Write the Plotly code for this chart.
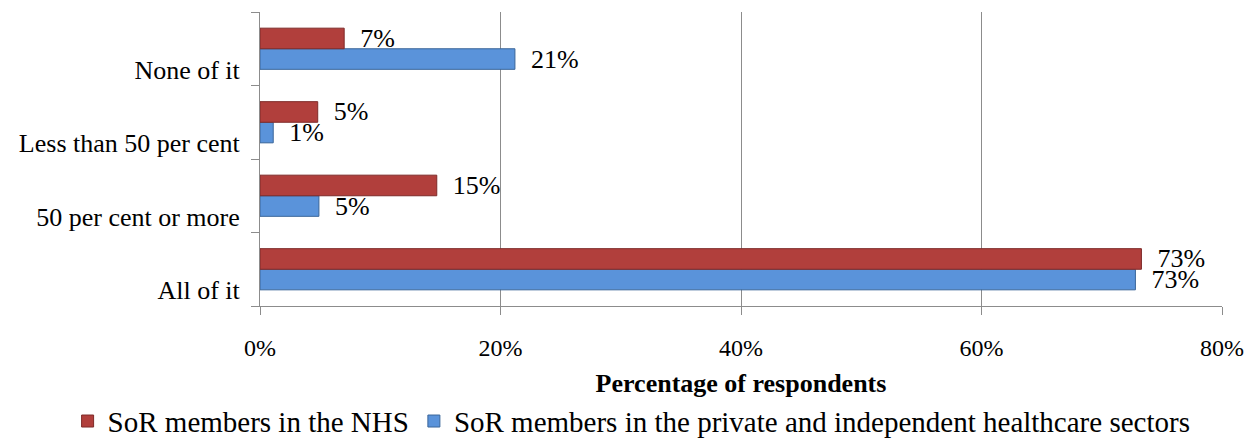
import plotly.graph_objs as go

categories = ["All of it", "50 per cent or more", "Less than 50 per cent", "None of it"]
nhs_values = [73.3, 14.7, 4.8, 7.0]
private_values = [72.8, 4.9, 1.1, 21.2]
x_ticks = [0, 20, 40, 60, 80]
x_tick_labels = ["0%", "20%", "40%", "60%", "80%"]

serif = "Liberation Serif, Times New Roman, serif"

fig = go.Figure()

# Blue series first so it sits below the red one within each group
fig.add_trace(
    go.Bar(
        y=categories,
        x=private_values,
        orientation="h",
        name="SoR members in the private and independent healthcare sectors",
        marker=dict(color="#5A93DA", line=dict(color="#3A6699", width=1)),
        texttemplate="\u00a0\u00a0%{x:.0f}%",
        textposition="outside",
        constraintext="none",
        textfont=dict(family=serif, size=26, color="black"),
        cliponaxis=False,
    )
)

fig.add_trace(
    go.Bar(
        y=categories,
        x=nhs_values,
        orientation="h",
        name="SoR members in the NHS",
        marker=dict(color="#B13F3C", line=dict(color="#7E2A28", width=1)),
        texttemplate="\u00a0\u00a0%{x:.0f}%",
        textposition="outside",
        constraintext="none",
        textfont=dict(family=serif, size=26, color="black"),
        cliponaxis=False,
    )
)

# page body has an 8px margin, so the figure is 8px smaller and margins shifted
fig.update_layout(
    width=1250,
    height=431,
    margin=dict(l=252, r=36, t=4, b=133, autoexpand=False),
    barmode="group",
    bargap=0.44,
    bargroupgap=0.0,
    plot_bgcolor="white",
    paper_bgcolor="white",
    font=dict(family=serif, size=24, color="black"),
    showlegend=True,
    legend=dict(
        orientation="h",
        traceorder="reversed",
        x=-0.2,
        xanchor="left",
        y=-0.305,
        yanchor="top",
        font=dict(family=serif, size=29, color="black"),
        itemwidth=30,
    ),
    xaxis=dict(
        range=[0, 80],
        tickvals=x_ticks,
        ticktext=x_tick_labels,
        showgrid=True,
        gridcolor="#8C8C8C",
        gridwidth=1,
        zeroline=False,
        showline=True,
        linecolor="#8C8C8C",
        mirror=False,
        ticks="outside",
        ticklen=8,
        tickcolor="#8C8C8C",
        ticklabelstandoff=12,
        automargin=False,
        tickfont=dict(family=serif, size=24),
        title=dict(
            text="<b>Percentage of respondents</b>",
            font=dict(family=serif, size=26),
            standoff=14,
        ),
    ),
    yaxis=dict(
        categoryorder="array",
        categoryarray=categories,
        showline=True,
        linecolor="#8C8C8C",
        ticks="outside",
        tickson="boundaries",
        ticklen=8,
        tickcolor="#8C8C8C",
        showgrid=False,
        ticklabelstandoff=14,
        ticklabelshift=21,
        automargin=False,
        tickfont=dict(family=serif, size=26),
    ),
)

fig.write_html("out.html")
